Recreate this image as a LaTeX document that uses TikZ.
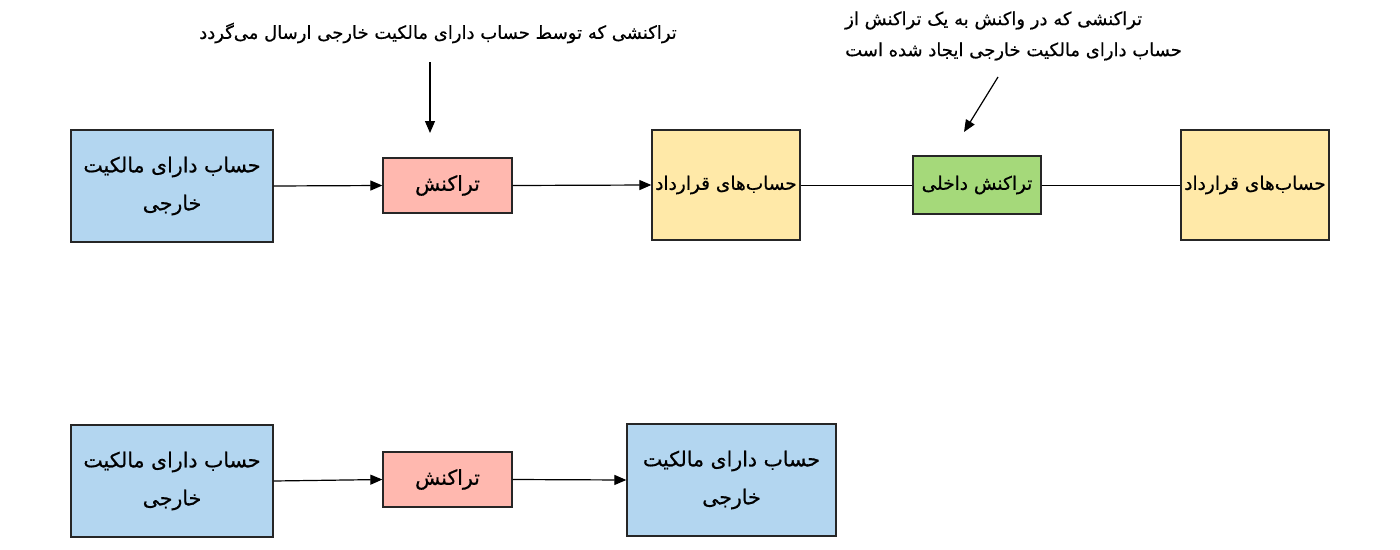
\documentclass[tikz,border=0pt]{standalone}
\usepackage{fontspec}
\usetikzlibrary{arrows.meta}
\TeXXeTstate=1
\newfontfamily\arabicfont[Script=Arabic,FakeBold=0.6]{DejaVu Sans}
\definecolor{cblue}{HTML}{B3D6F0}
\definecolor{cpink}{HTML}{FFB8AF}
\definecolor{cyell}{HTML}{FFE9A8}
\definecolor{cgreen}{HTML}{A5D97A}
\begin{document}
\begin{tikzpicture}[x=1pt,y=-1pt,
  box/.style={draw=black!85,line width=1.3pt,inner sep=0pt,align=center,
    font=\arabicfont\fontsize{20.5}{38}\selectfont},
  sbox/.style={box,font=\arabicfont\fontsize{18.5}{38}\selectfont},
  lbl/.style={inner sep=0pt,font=\arabicfont\fontsize{18}{31}\selectfont},
  arr/.style={-{Triangle[length=12pt,width=10pt]},line width=1.2pt},
  ln/.style={line width=0.8pt}]
\useasboundingbox[fill=white] (0,0) rectangle (1400,549);
% top row
\node[box,fill=cblue,minimum width=202pt,minimum height=112pt] (A1) at (172,186)
  {\beginR حساب دارای مالکیت\endR\\\beginR خارجی\endR};
\node[box,fill=cpink,minimum width=129pt,minimum height=55pt] (T1) at (447.5,185.5)
  {\beginR تراکنش\endR};
\node[sbox,fill=cyell,minimum width=148pt,minimum height=110pt] (C1) at (726,185)
  {\beginR حساب‌های قرارداد\endR};
\node[sbox,fill=cgreen,minimum width=128pt,minimum height=58pt] (I) at (977,185)
  {\beginR تراکنش داخلی\endR};
\node[sbox,fill=cyell,minimum width=148pt,minimum height=110pt] (C2) at (1255,185)
  {\beginR حساب‌های قرارداد\endR};
\draw[arr] (A1.east) -- (T1.west);
\draw[arr] (T1.east) -- (C1.west);
\draw[ln] (C1.east) -- (I.west);
\draw[ln] (I.east) -- (C2.west);
% annotations
\node[lbl] (L1) at (438,33) {\beginR تراکنشی که توسط حساب دارای مالکیت خارجی ارسال می‌گردد\endR};
\coordinate (v1) at (430,62);
\coordinate (v2) at (430,133);
\draw[arr] (v1) -- (v2);
\node[lbl,align=left,anchor=west] (L2) at (845,36)
  {\beginR تراکنشی که در واکنش به یک تراکنش از\endR\\\beginR حساب دارای مالکیت خارجی ایجاد شده است\endR};
\coordinate (d1) at (998,77);
\coordinate (d2) at (964,132);
\draw[arr] (d1) -- (d2);
% bottom row
\node[box,fill=cblue,minimum width=202pt,minimum height=112pt] (A2) at (172,481)
  {\beginR حساب دارای مالکیت\endR\\\beginR خارجی\endR};
\node[box,fill=cpink,minimum width=129pt,minimum height=55pt] (T2) at (447.5,479.5)
  {\beginR تراکنش\endR};
\node[box,fill=cblue,minimum width=209pt,minimum height=112pt] (A3) at (731.5,480)
  {\beginR حساب دارای مالکیت\endR\\\beginR خارجی\endR};
\draw[arr] (A2.east) -- (T2.west);
\draw[arr] (T2.east) -- (A3.west);
\end{tikzpicture}
\end{document}
